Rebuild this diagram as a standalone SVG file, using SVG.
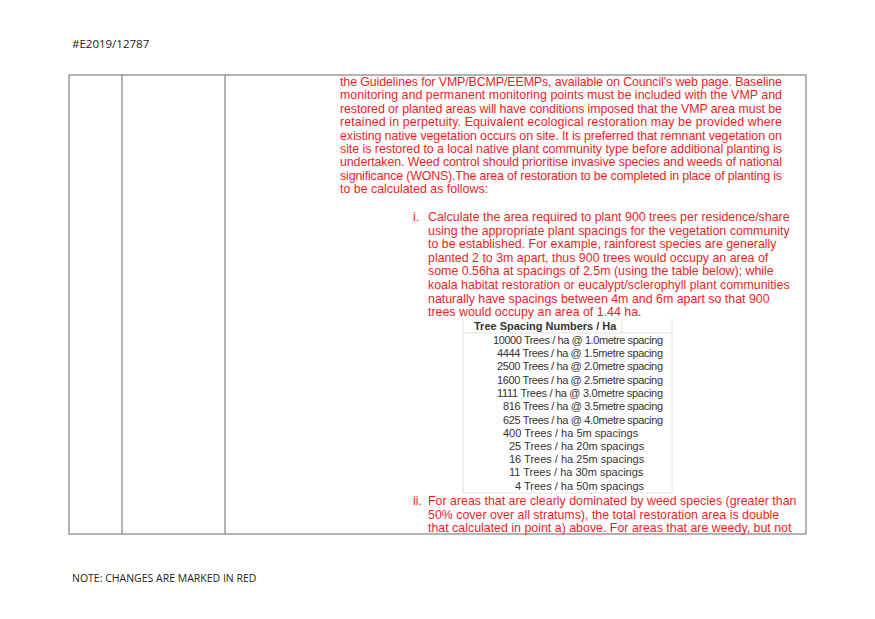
<svg xmlns="http://www.w3.org/2000/svg" width="875" height="619" viewBox="0 0 875 619">
<style>
.r{font-family:"Liberation Sans",Arial,sans-serif;font-size:12.4px;fill:#f01e1e}
.t{font-family:"Liberation Sans",Arial,sans-serif;font-size:11px;fill:#333}
.h{font-family:"Open Sans","Liberation Sans",sans-serif;font-size:11.5px;fill:#222}
.b{stroke:#8a8a8a;stroke-width:1.3;fill:none}
.g{stroke:#e2e2e2;stroke-width:1;fill:none}
</style>
<rect width="875" height="619" fill="#fff"/>
<text class="h" x="72" y="48">#E2019/12787</text>
<text class="h" x="72" y="582" style="font-size:10.5px">NOTE: CHANGES ARE MARKED IN RED</text>
<g id="table">
<rect class="b" x="69" y="75" width="737" height="459"/>
<line class="b" x1="122" y1="75" x2="122" y2="534"/>
<line class="b" x1="225" y1="75" x2="225" y2="534"/>
</g>
<g id="para">
<text class="r" x="340" y="86" textLength="442" lengthAdjust="spacing">the Guidelines for VMP/BCMP/EEMPs, available on Council's web page. Baseline</text>
<text class="r" x="340" y="99.4" textLength="442" lengthAdjust="spacing">monitoring and permanent monitoring points must be included with the VMP and</text>
<text class="r" x="340" y="112.8" textLength="442" lengthAdjust="spacing">restored or planted areas will have conditions imposed that the VMP area must be</text>
<text class="r" x="340" y="126.2" textLength="442" lengthAdjust="spacing">retained in perpetuity.  Equivalent ecological restoration may be provided where</text>
<text class="r" x="340" y="139.6" textLength="442" lengthAdjust="spacing">existing native vegetation occurs on site. It is preferred that remnant vegetation on</text>
<text class="r" x="340" y="153" textLength="442" lengthAdjust="spacing">site is restored to a local native plant community type before additional planting is</text>
<text class="r" x="340" y="166.4" textLength="442" lengthAdjust="spacing">undertaken.  Weed control should prioritise invasive species and weeds of national</text>
<text class="r" x="340" y="179.8" textLength="442" lengthAdjust="spacing">significance (WONS).The area of restoration to be completed in place of planting is</text>
<text class="r" x="340" y="193.2">to be calculated as follows:</text>
</g>
<g id="item-i">
<text class="r" x="413" y="221">i.</text>
<text class="r" x="428" y="221">Calculate the area required to plant 900 trees per residence/share</text>
<text class="r" x="428" y="234.6">using the appropriate plant spacings for the vegetation community</text>
<text class="r" x="428" y="248.2">to be established. For example, rainforest species are generally</text>
<text class="r" x="428" y="261.8">planted 2 to 3m apart, thus 900 trees would occupy an area of</text>
<text class="r" x="428" y="275.4">some 0.56ha at spacings of 2.5m (using the table below); while</text>
<text class="r" x="428" y="289">koala habitat restoration or eucalypt/sclerophyll plant communities</text>
<text class="r" x="428" y="302.6">naturally have spacings between 4m and 6m apart so that 900</text>
<text class="r" x="428" y="316.2">trees would occupy an area of 1.44 ha.</text>
</g>
<g id="spacing-table">
<line class="g" x1="463" y1="319" x2="463" y2="493"/>
<line class="g" x1="622" y1="319" x2="622" y2="333"/>
<line class="g" x1="672" y1="319" x2="672" y2="493"/>
<line class="g" x1="463" y1="333" x2="672" y2="333"/>
<line class="g" x1="463" y1="493" x2="672" y2="493"/>
<text class="t" x="474" y="330" font-weight="bold">Tree Spacing Numbers / Ha</text>
<text class="t" x="493" y="344" textLength="170">10000 Trees / ha @ 1.0metre spacing</text>
<text class="t" x="497" y="357" textLength="166">4444 Trees / ha @ 1.5metre spacing</text>
<text class="t" x="497" y="370" textLength="166">2500 Trees / ha @ 2.0metre spacing</text>
<text class="t" x="497" y="384" textLength="166">1600 Trees / ha @ 2.5metre spacing</text>
<text class="t" x="497" y="397" textLength="166">1111 Trees / ha @ 3.0metre spacing</text>
<text class="t" x="503" y="410" textLength="160">816 Trees / ha @ 3.5metre spacing</text>
<text class="t" x="503" y="424" textLength="160">625 Trees / ha @ 4.0metre spacing</text>
<text class="t" x="503" y="437">400 Trees / ha  5m spacings</text>
<text class="t" x="509" y="450">25 Trees / ha  20m spacings</text>
<text class="t" x="509" y="463">16 Trees / ha  25m spacings</text>
<text class="t" x="509" y="476">11 Trees / ha  30m spacings</text>
<text class="t" x="515" y="490">4 Trees / ha  50m spacings</text>
</g>
<g id="item-ii">
<text class="r" x="413" y="505">ii.</text>
<text class="r" x="428" y="505">For areas that are clearly dominated by weed species (greater than</text>
<text class="r" x="428" y="518.6">50% cover over all stratums), the total restoration area is double</text>
<text class="r" x="428" y="532.2">that calculated in point a) above. For areas that are weedy, but not</text>
</g>
</svg>
